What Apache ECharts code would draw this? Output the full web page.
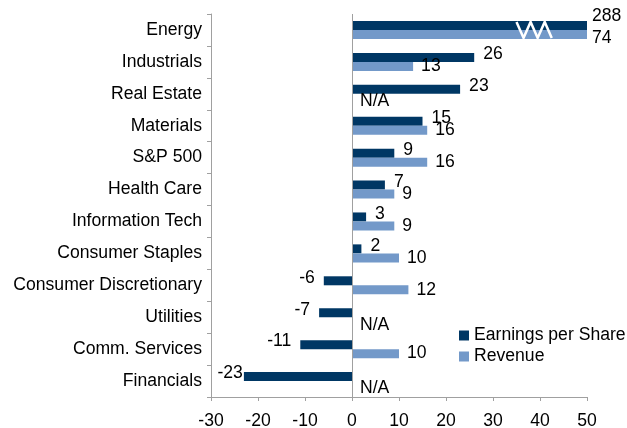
<!DOCTYPE html>
<html>
<head>
<meta charset="utf-8">
<script src="https://cdn.jsdelivr.net/npm/echarts@6/dist/echarts.min.js"></script>
<style>
  html, body { margin: 0; padding: 0; background: #fff; }
  #chart { width: 627px; height: 428px; }
</style>
</head>
<body>
<div id="chart"></div>
<script>
const categories = [
  "Energy", "Industrials", "Real Estate", "Materials", "S&P 500", "Health Care",
  "Information Tech", "Consumer Staples", "Consumer Discretionary", "Utilities",
  "Comm. Services", "Financials"
];
const eps = [288, 26, 23, 15, 9, 7, 3, 2, -6, -7, -11, -23];
const revenue = [74, 13, null, 16, 16, 9, 9, 10, 12, null, 10, null];

const axisMin = -30;
const axisMax = 50;
const axisStep = 10;

const font = "'Liberation Sans', Arial, sans-serif";
const fontSize = 17.6;
const darkBlue = "#003764";
const lightBlue = "#7399c9";
const axisGrey = "#a0a0a0";

// bars beyond the axis max are cut at the edge, label keeps the real value
const makeData = (arr, isEps) =>
  arr.map((v, i) => {
    const item = { value: v === null ? 0 : Math.min(v, axisMax) };
    const label = {};
    if (v !== null && v > axisMax) {
      label.distance = 5;
      label.offset = isEps ? [0, -9] : [0, 4];
    }
    if (v !== null && v < 0) label.position = "left";
    if (v !== null && v <= -20) label.distance = 1;
    if (v === null) label.offset = [0, 3];
    item.label = label;
    return item;
  });

const chart = echarts.init(document.getElementById("chart"));

chart.setOption({
  animation: false,
  textStyle: { fontFamily: font },
  grid: { left: 211, right: 40, top: 14, bottom: 31, outerBoundsMode: "none" },
  legend: {
    orient: "vertical",
    left: 454,
    top: 321,
    itemWidth: 10,
    itemHeight: 10,
    itemGap: 2,
    icon: "rect",
    textStyle: { fontFamily: font, fontSize: fontSize, lineHeight: 19, color: "#000" },
    data: ["Earnings per Share", "Revenue"]
  },
  xAxis: {
    type: "value",
    min: axisMin,
    max: axisMax,
    interval: axisStep,
    axisLine: { show: true, onZero: false, lineStyle: { color: axisGrey, width: 1 } },
    axisTick: { show: true, length: 4, lineStyle: { color: axisGrey } },
    axisLabel: { fontFamily: font, fontSize: fontSize, color: "#000", margin: 15 },
    splitLine: { show: false }
  },
  yAxis: {
    type: "category",
    inverse: true,
    data: categories,
    axisLine: { show: true, onZero: false, lineStyle: { color: axisGrey, width: 1 } },
    axisTick: { show: true, length: 4, alignWithLabel: false, lineStyle: { color: axisGrey } },
    axisLabel: { fontFamily: font, fontSize: fontSize, color: "#000", margin: 9 }
  },
  series: [
    {
      name: "Earnings per Share",
      type: "bar",
      barWidth: 9,
      barGap: "0%",
      itemStyle: { color: darkBlue },
      label: {
        show: true,
        position: "right",
        distance: 9,
        offset: [0, -3],
        fontFamily: font,
        fontSize: fontSize,
        color: "#000",
        formatter: (p) => String(eps[p.dataIndex])
      },
      data: makeData(eps, true),
      markLine: {
        silent: true,
        symbol: ["none", "none"],
        label: { show: false },
        lineStyle: { color: axisGrey, type: "solid", width: 1 },
        data: [{ xAxis: 0 }]
      }
    },
    {
      name: "Revenue",
      type: "bar",
      barWidth: 9,
      barGap: "0%",
      itemStyle: { color: lightBlue },
      label: {
        show: true,
        position: "right",
        distance: 8,
        fontFamily: font,
        fontSize: fontSize,
        color: "#000",
        formatter: (p) => (revenue[p.dataIndex] === null ? "N/A" : String(revenue[p.dataIndex]))
      },
      data: makeData(revenue, false)
    }
  ]
});

// white zig-zag break mark across the cut Energy bars
const brk = categories.indexOf("Energy");
const zx = [35, 36.5, 38, 39.5, 41, 42.5];
const pts = zx.map((x, k) => {
  const p = chart.convertToPixel({ gridIndex: 0 }, [x, brk]);
  return [p[0], p[1] + (k % 2 === 0 ? -8 : 8)];
});
chart.setOption({
  graphic: [
    {
      type: "polyline",
      shape: { points: pts },
      style: { stroke: "#fff", lineWidth: 2.5, fill: null },
      z: 100
    }
  ]
});
</script>
</body>
</html>
